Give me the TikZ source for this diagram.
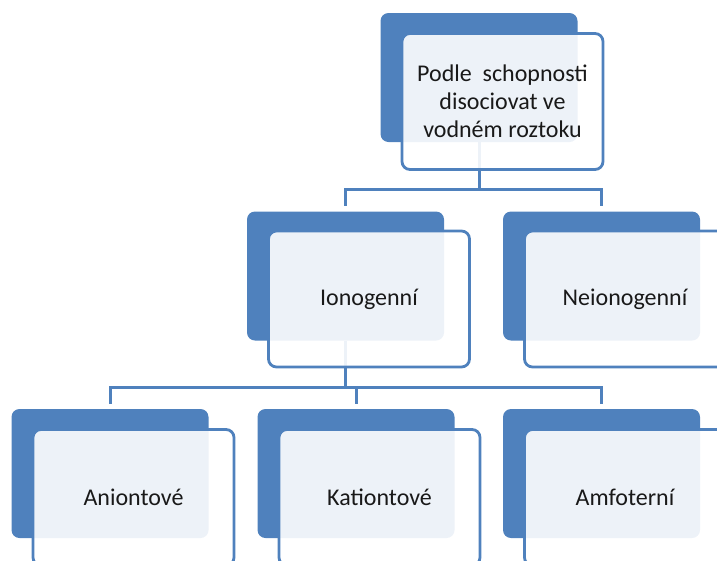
\documentclass[tikz,border=0pt]{standalone}
\usepackage{fontspec}
\setmainfont{Carlito}
\usepackage{tikz}
\usetikzlibrary{positioning}
\definecolor{smblue}{HTML}{4F81BD}

\tikzset{
  backbox/.style={rectangle,rounded corners=8pt,fill=smblue,draw=none,
    minimum width=197pt,minimum height=129pt,inner sep=0pt},
  frontbox/.style={rectangle,rounded corners=8pt,draw=smblue,line width=2.8pt,
    fill=white,fill opacity=0.9,text opacity=1,text=black!90,
    minimum width=201pt,minimum height=136pt,inner sep=0pt,align=center,
    font=\fontsize{24}{28}\selectfont},
  conn/.style={draw=smblue,line width=3pt,shorten >=5pt}
}

\begin{document}
\begin{tikzpicture}[x=1pt,y=-1pt]
\useasboundingbox (0,0) rectangle (717,560);
\clip (0,0) rectangle (717,560);
%%%%%%%%%%%%%%%% back shapes
\node[backbox] (top) at (479,77.5) {};
\node[backbox] (iono) at (345.5,276) {};
\node[backbox] (neio) at (601.5,276) {};
\node[backbox] (anio) at (110,473.5) {};
\node[backbox] (kati) at (356,473.5) {};
\node[backbox] (amfo) at (601.5,473.5) {};
%%%%%%%%%%%%%%%% connectors
\draw[conn,shorten >=0pt] (top.south) -- ++(0,47) coordinate (topj);
\draw[conn] (topj) -| (iono.north);
\draw[conn] (topj) -| (neio.north);
\draw[conn,shorten >=0pt] (iono.south) -- ++(0,47) coordinate (ionoj);
\draw[conn] (ionoj) -| (anio.north);
\draw[conn] (ionoj) -| (kati.north);
\draw[conn] (ionoj) -| (amfo.north);
%%%%%%%%%%%%%%%% front boxes
\node[frontbox] (topf) at ([shift={(23.5,24)}]top.center)
  {Podle\ \ schopnosti\\disociovat ve\\vodném\ roztoku};
\node[frontbox] (ionof) at ([shift={(23.5,23)}]iono.center) {Ionogenní};
\node[frontbox] (neiof) at ([shift={(23.5,23)}]neio.center) {Neionogenní};
\node[frontbox] (aniof) at ([shift={(23.5,24)}]anio.center) {Aniontové};
\node[frontbox] (katif) at ([shift={(23.5,24)}]kati.center) {Kationtové};
\node[frontbox] (amfof) at ([shift={(23.5,24)}]amfo.center) {Amfoterní};
\end{tikzpicture}
\end{document}
